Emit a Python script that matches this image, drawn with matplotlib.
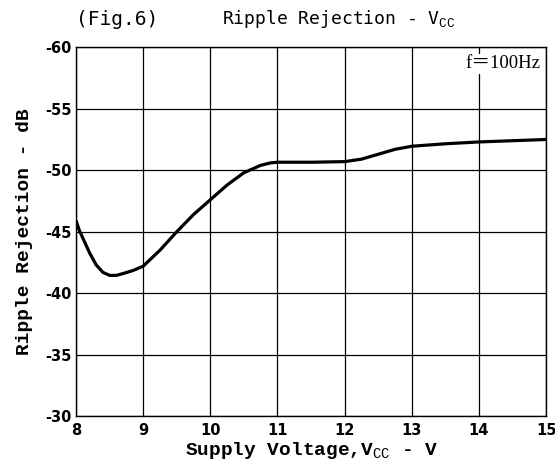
import matplotlib
matplotlib.use('Agg')
import matplotlib.pyplot as plt

# supply voltage (V) and ripple rejection (dB)
vcc = [8.0, 8.05, 8.1, 8.15, 8.2, 8.3, 8.4, 8.5, 8.6, 8.7, 8.85, 9.0,
       9.25, 9.5, 9.75, 10.0, 10.25, 10.5, 10.75, 10.9, 11.0, 11.5, 12.0,
       12.25, 12.5, 12.75, 13.0, 13.5, 14.0, 14.5, 15.0]
rr = [-45.9, -45.1, -44.5, -43.9, -43.3, -42.3, -41.7, -41.45, -41.45, -41.6,
      -41.85, -42.2, -43.5, -45.0, -46.4, -47.6, -48.8, -49.8, -50.4, -50.6,
      -50.65, -50.65, -50.7, -50.9, -51.3, -51.7, -51.95, -52.15, -52.3,
      -52.4, -52.5]

xticks = [8, 9, 10, 11, 12, 13, 14, 15]
yticks = [-60, -55, -50, -45, -40, -35, -30]

plt.rcParams['axes.unicode_minus'] = False
plt.rcParams['mathtext.fontset'] = 'custom'
plt.rcParams['mathtext.rm'] = 'Liberation Mono'

fig = plt.figure(figsize=(5.55, 4.63), dpi=100)
ax = fig.add_axes([0.137, 0.101, 0.847, 0.797])

ax.plot(vcc, rr, color='black', lw=2.3, solid_capstyle='round',
        solid_joinstyle='round')

ax.set_xlim(8, 15)
ax.set_ylim(-30, -60)
ax.set_xticks(xticks)
ax.set_yticks(yticks)
ax.grid(True, color='black', lw=0.9)
for s in ax.spines.values():
    s.set_linewidth(1.0)
ax.tick_params(length=0, labelsize=10.5, pad=3)
ax.tick_params(axis='x', pad=5)
for lab in ax.get_xticklabels() + ax.get_yticklabels():
    lab.set_fontweight('bold')
    lab.set_family('DejaVu Sans')

ax.set_xlabel(r'Supply Voltage,V$_{\mathrm{CC}}$ - V', family='Liberation Mono',
              fontsize=14, fontweight='bold', labelpad=1)
ax.set_ylabel('Ripple Rejection - dB', family='Liberation Mono',
              fontsize=14, fontweight='bold', labelpad=9)

fig.text(0.137, 0.958, '(Fig.6)', family='DejaVu Sans Mono', fontsize=14,
         ha='left', va='center')
fig.text(0.61, 0.958, r'Ripple Rejection - V$_{\mathrm{CC}}$',
         family='DejaVu Sans Mono', fontsize=13, ha='center', va='center')

ax.text(0.988, 0.978, 'f＝100Hz', transform=ax.transAxes,
        family=['Liberation Serif', 'Noto Sans CJK JP'], fontsize=13.5,
        ha='right', va='top',
        bbox=dict(facecolor='white', edgecolor='none', pad=1))

fig.savefig('out.png', dpi=100)
